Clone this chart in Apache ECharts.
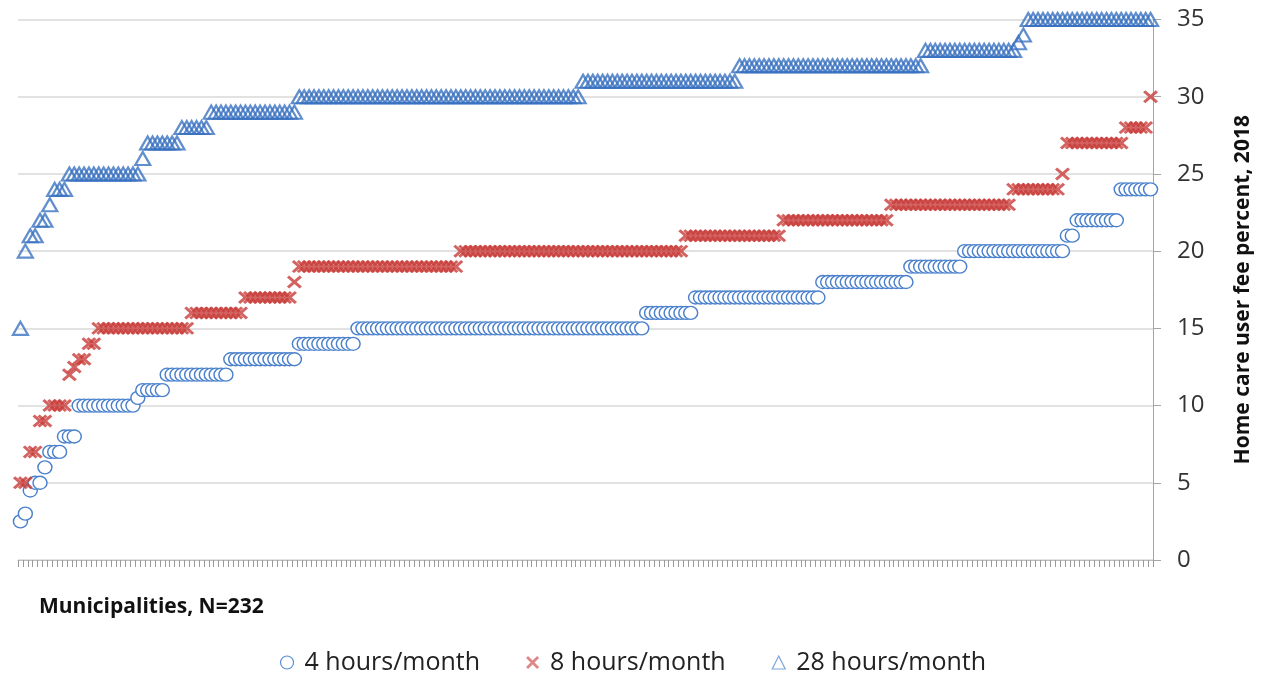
<!DOCTYPE html>
<html>
<head>
<meta charset="utf-8">
<script src="https://cdn.jsdelivr.net/npm/echarts@6/dist/echarts.min.js"></script>
<style>
  html, body { margin: 0; padding: 0; background: #ffffff; }
  #chart { width: 1266px; height: 680px; }
</style>
</head>
<body>
<div id="chart"></div>
<script>
// ---- Data ----
const seriesNames = ['4 hours/month', '8 hours/month', '28 hours/month'];
const yTicks = [0, 5, 10, 15, 20, 25, 30, 35];
const xAxisTitle = 'Municipalities, N=232';
const yAxisTitle = 'Home care user fee percent, 2018';

const hours4 = [
  2.5, 3, 4.5, 5, 5, 6, 7, 7, 7, 8, 8, 8,
  10, 10, 10, 10, 10, 10, 10, 10, 10, 10, 10, 10,
  10.5,
  11, 11, 11, 11, 11,
  12, 12, 12, 12, 12, 12, 12, 12, 12, 12, 12, 12, 12,
  13, 13, 13, 13, 13, 13, 13, 13, 13, 13, 13, 13, 13, 13,
  14, 14, 14, 14, 14, 14, 14, 14, 14, 14, 14, 14,
  15, 15, 15, 15, 15, 15, 15, 15, 15, 15,
  15, 15, 15, 15, 15, 15, 15, 15, 15, 15,
  15, 15, 15, 15, 15, 15, 15, 15, 15, 15,
  15, 15, 15, 15, 15, 15, 15, 15, 15, 15,
  15, 15, 15, 15, 15, 15, 15, 15, 15, 15,
  15, 15, 15, 15, 15, 15, 15, 15, 15,
  16, 16, 16, 16, 16, 16, 16, 16, 16, 16,
  17, 17, 17, 17, 17, 17, 17, 17, 17, 17,
  17, 17, 17, 17, 17, 17, 17, 17, 17, 17,
  17, 17, 17, 17, 17, 17,
  18, 18, 18, 18, 18, 18, 18, 18, 18, 18,
  18, 18, 18, 18, 18, 18, 18, 18,
  19, 19, 19, 19, 19, 19, 19, 19, 19, 19, 19,
  20, 20, 20, 20, 20, 20, 20, 20, 20, 20,
  20, 20, 20, 20, 20, 20, 20, 20, 20, 20, 20,
  21, 21,
  22, 22, 22, 22, 22, 22, 22, 22, 22,
  24, 24, 24, 24, 24, 24, 24
];

const hours8 = [
  5, 5, 7, 7, 9, 9, 10, 10, 10, 10,
  12, 12.5, 13, 13, 14, 14,
  15, 15, 15, 15, 15, 15, 15, 15, 15, 15,
  15, 15, 15, 15, 15, 15, 15, 15, 15,
  16, 16, 16, 16, 16, 16, 16, 16, 16, 16, 16,
  17, 17, 17, 17, 17, 17, 17, 17, 17, 17,
  18,
  19, 19, 19, 19, 19, 19, 19, 19, 19, 19,
  19, 19, 19, 19, 19, 19, 19, 19, 19, 19,
  19, 19, 19, 19, 19, 19, 19, 19, 19, 19,
  19, 19, 19,
  20, 20, 20, 20, 20, 20, 20, 20, 20, 20,
  20, 20, 20, 20, 20, 20, 20, 20, 20, 20,
  20, 20, 20, 20, 20, 20, 20, 20, 20, 20,
  20, 20, 20, 20, 20, 20, 20, 20, 20, 20,
  20, 20, 20, 20, 20, 20,
  21, 21, 21, 21, 21, 21, 21, 21, 21, 21,
  21, 21, 21, 21, 21, 21, 21, 21, 21, 21,
  22, 22, 22, 22, 22, 22, 22, 22, 22, 22,
  22, 22, 22, 22, 22, 22, 22, 22, 22, 22, 22, 22,
  23, 23, 23, 23, 23, 23, 23, 23, 23, 23,
  23, 23, 23, 23, 23, 23, 23, 23, 23, 23,
  23, 23, 23, 23, 23,
  24, 24, 24, 24, 24, 24, 24, 24, 24, 24,
  25,
  27, 27, 27, 27, 27, 27, 27, 27, 27, 27, 27, 27,
  28, 28, 28, 28, 28,
  30
];

const hours28 = [
  15, 20, 21, 21, 22, 22, 23, 24, 24, 24,
  25, 25, 25, 25, 25, 25, 25, 25, 25, 25, 25, 25, 25, 25, 25,
  26,
  27, 27, 27, 27, 27, 27, 27,
  28, 28, 28, 28, 28, 28,
  29, 29, 29, 29, 29, 29, 29, 29, 29, 29,
  29, 29, 29, 29, 29, 29, 29, 29,
  30, 30, 30, 30, 30, 30, 30, 30, 30, 30,
  30, 30, 30, 30, 30, 30, 30, 30, 30, 30,
  30, 30, 30, 30, 30, 30, 30, 30, 30, 30,
  30, 30, 30, 30, 30, 30, 30, 30, 30, 30,
  30, 30, 30, 30, 30, 30, 30, 30, 30, 30,
  30, 30, 30, 30, 30, 30, 30, 30,
  31, 31, 31, 31, 31, 31, 31, 31, 31, 31,
  31, 31, 31, 31, 31, 31, 31, 31, 31, 31,
  31, 31, 31, 31, 31, 31, 31, 31, 31, 31, 31, 31,
  32, 32, 32, 32, 32, 32, 32, 32, 32, 32,
  32, 32, 32, 32, 32, 32, 32, 32, 32, 32,
  32, 32, 32, 32, 32, 32, 32, 32, 32, 32,
  32, 32, 32, 32, 32, 32, 32, 32,
  33, 33, 33, 33, 33, 33, 33, 33, 33, 33,
  33, 33, 33, 33, 33, 33, 33, 33, 33,
  33.5, 34,
  35, 35, 35, 35, 35, 35, 35, 35, 35, 35,
  35, 35, 35, 35, 35, 35, 35, 35, 35, 35,
  35, 35, 35, 35, 35, 35
];

// category labels: municipality rank 1..232
const municipalities = hours4.map((_, i) => String(i + 1));

// ---- Styles ----
const BLUE_TRI = '#3a72c0';
const BLUE_CIRC = '#4a80cc';
const RED = '#c83c3a';
const FONT = '"Open Sans", "DejaVu Sans", sans-serif';
const CROSS = 'path://M0,1.5L1.5,0L5,3.5L8.5,0L10,1.5L6.5,5L10,8.5L8.5,10L5,6.5L1.5,10L0,8.5L3.5,5Z';

const chart = echarts.init(document.getElementById('chart'), null, { renderer: 'canvas' });

chart.setOption({
  backgroundColor: '#ffffff',
  animation: false,
  title: {
    text: xAxisTitle,
    left: 34,
    top: 592,
    textStyle: { fontFamily: FONT, fontWeight: 'bold', fontSize: 21, color: '#111' }
  },
  legend: {
    bottom: 0,
    left: 'center',
    itemGap: 46,
    itemWidth: 13,
    itemHeight: 13,
    textStyle: { fontFamily: FONT, fontSize: 25, color: '#222', padding: [0, 0, 0, 6] },
    data: [
      { name: seriesNames[0], icon: 'circle', itemStyle: { color: '#fff', borderColor: '#5b8fd6', borderWidth: 1.2 } },
      { name: seriesNames[1], icon: CROSS, itemStyle: { color: '#d46a68', borderWidth: 0 } },
      { name: seriesNames[2], icon: 'triangle', itemStyle: { color: '#fff', borderColor: '#5b8fd6', borderWidth: 1.2 } }
    ]
  },
  grid: { left: 18, right: 113, top: 19.5, bottom: 120, containLabel: false },
  xAxis: {
    type: 'category',
    data: municipalities,
    boundaryGap: true,
    axisLine: { show: true, lineStyle: { color: '#bdbdbd', width: 1 } },
    axisTick: { show: true, interval: 0, length: 7, lineStyle: { color: '#9a9a9a', width: 1 } },
    axisLabel: { show: false },
    splitLine: { show: false }
  },
  yAxis: {
    type: 'value',
    position: 'right',
    min: yTicks[0],
    max: yTicks[yTicks.length - 1],
    interval: 5,
    axisLine: { show: true, lineStyle: { color: '#a6a6a6', width: 1 } },
    axisTick: { show: true, length: 8, lineStyle: { color: '#a6a6a6' } },
    axisLabel: { margin: 24, fontFamily: FONT, fontSize: 24, color: '#333' },
    splitLine: { show: true, lineStyle: { color: '#d9d9d9', width: 1.5 } },
    name: yAxisTitle,
    nameLocation: 'middle',
    nameRotate: 90,
    nameGap: 80,
    nameTextStyle: { fontFamily: FONT, fontWeight: 'bold', fontSize: 21, color: '#111' }
  },
  series: [
    {
      name: seriesNames[0],
      type: 'scatter',
      data: hours4,
      symbol: 'circle',
      symbolSize: [14, 13],
      itemStyle: { color: '#ffffff', borderColor: BLUE_CIRC, borderWidth: 1.4, opacity: 1 },
      z: 2
    },
    {
      name: seriesNames[1],
      type: 'scatter',
      data: hours8,
      symbol: CROSS,
      symbolSize: [15, 13],
      itemStyle: { color: RED, borderWidth: 0 },
      z: 3
    },
    {
      name: seriesNames[2],
      type: 'scatter',
      data: hours28,
      symbol: 'triangle',
      symbolSize: [15, 13],
      itemStyle: { color: 'rgba(255,255,255,0)', borderColor: BLUE_TRI, borderWidth: 2.2 },
      z: 4
    }
  ]
});
</script>
</body>
</html>
